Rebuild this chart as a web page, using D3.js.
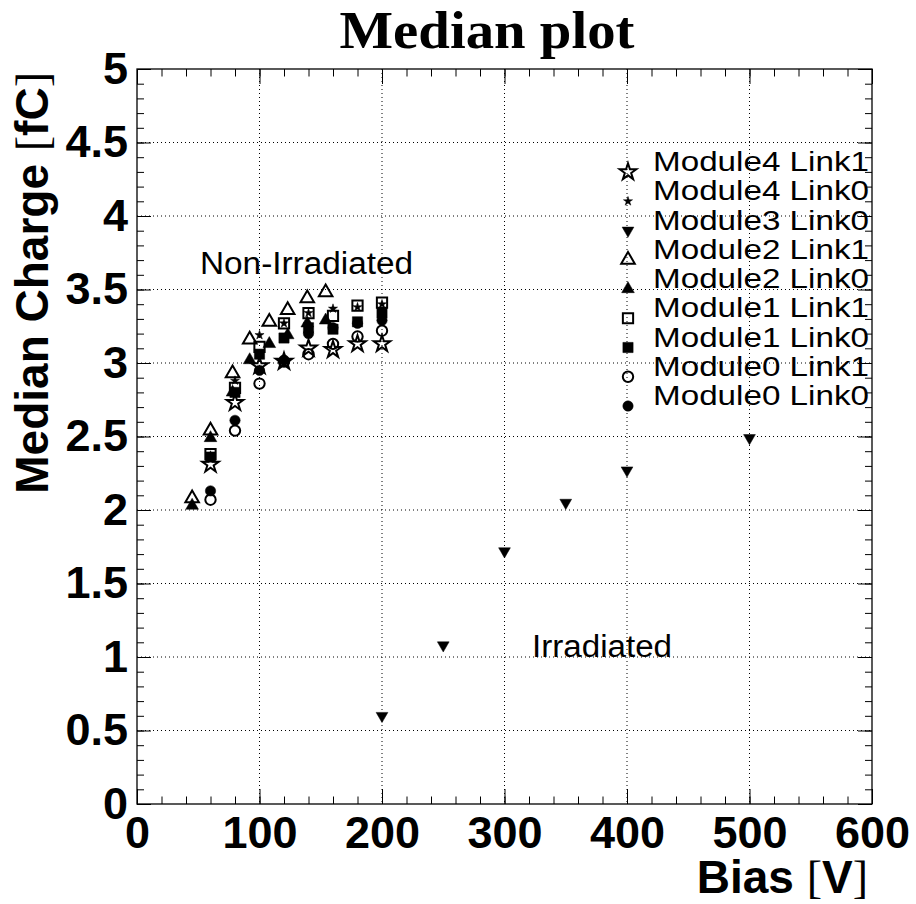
<!DOCTYPE html>
<html>
  <head>
    <title>Median plot | D3</title>
    <script src="https://d3js.org/d3.v7.min.js" charset="utf-8"></script>
    <style>
    body {
        margin: 0;
        background: white;
    }
    text {
        font-family: "Liberation Sans", Arial, sans-serif;
    }
    </style>
  </head>

  <body>
    <script>
// ---- data ----
var biasStd = [60, 80, 100, 120, 140, 160, 180, 200];
var biasM2 = [45, 60, 78, 92, 108, 123, 139, 154];
var biasM3 = [200, 250, 300, 350, 400, 500];

var m4l1 = [2.31, 2.73, 2.98, 3.01, 3.10, 3.09, 3.13, 3.13];
var m4l0 = [2.37, 2.88, 3.19, 3.27, 3.34, 3.37, 3.38, 3.40];
var m3l0 = [0.60, 1.08, 1.72, 2.05, 2.27, 2.49];
var m2l1 = [2.08, 2.54, 2.93, 3.16, 3.28, 3.36, 3.44, 3.48];
var m2l0 = [2.03, 2.49, 2.80, 3.02, 3.13, 3.19, 3.27, 3.29];
var m1l1 = [2.38, 2.83, 3.11, 3.27, 3.34, 3.32, 3.39, 3.41];
var m1l0 = [2.36, 2.80, 3.06, 3.17, 3.24, 3.23, 3.28, 3.34];
var m0l1 = [2.07, 2.54, 2.86, 3.01, 3.06, 3.13, 3.18, 3.22];
var m0l0 = [2.13, 2.61, 2.95, 3.02, 3.20, 3.24, 3.27, 3.29];

var legendNames = ["Module4 Link1", "Module4 Link0", "Module3 Link0", "Module2 Link1",
  "Module2 Link0", "Module1 Link1", "Module1 Link0", "Module0 Link1", "Module0 Link0"];

var xMajor = [0, 100, 200, 300, 400, 500, 600];
var yMajor = [0, 0.5, 1, 1.5, 2, 2.5, 3, 3.5, 4, 4.5, 5];

// ---- series, in legend order ----
var series = [
  {x: biasStd, y: m4l1, sym: d3.symbolStar, size: 85, filled: false, flip: false},
  {x: biasStd, y: m4l0, sym: d3.symbolStar, size: 26, filled: true, flip: false},
  {x: biasM3, y: m3l0, sym: d3.symbolTriangle, size: 60, filled: true, flip: true},
  {x: biasM2, y: m2l1, sym: d3.symbolTriangle, size: 80, filled: false, flip: false},
  {x: biasM2, y: m2l0, sym: d3.symbolTriangle, size: 70, filled: true, flip: false},
  {x: biasStd, y: m1l1, sym: d3.symbolSquare, size: 105, filled: false, flip: false},
  {x: biasStd, y: m1l0, sym: d3.symbolSquare, size: 105, filled: true, flip: false},
  {x: biasStd, y: m0l1, sym: d3.symbolCircle, size: 85, filled: false, flip: false},
  {x: biasStd, y: m0l0, sym: d3.symbolCircle, size: 85, filled: true, flip: false}
];

var width = 916;
var height = 904;
var frameL = 137, frameR = 872, frameT = 69, frameB = 804;

var svg = d3.select("body")
  .append("svg")
  .attr("width", width)
  .attr("height", height);

var x = d3.scaleLinear().domain([0, 600]).range([frameL, frameR]);
var y = d3.scaleLinear().domain([0, 5]).range([frameB, frameT]);

// grid
var grid = svg.append("g")
  .attr("stroke", "#000")
  .attr("stroke-width", 1)
  .attr("stroke-dasharray", "1,3");

grid.selectAll("line.gx")
  .data(xMajor.slice(1, -1))
  .enter()
  .append("line")
  .attr("x1", d => x(d)).attr("x2", d => x(d))
  .attr("y1", frameT).attr("y2", frameB);

grid.selectAll("line.gy")
  .data(yMajor.slice(1, -1))
  .enter()
  .append("line")
  .attr("y1", d => y(d)).attr("y2", d => y(d))
  .attr("x1", frameL).attr("x2", frameR);

// axes (ticks point inwards on all four sides)
var xMinor = d3.range(0, 601, 20);
var yMinor = d3.range(0, 51).map(d => d / 10);

function tidy(g) {
  g.select(".domain").remove();
  g.selectAll(".tick line").attr("stroke", "#000").attr("stroke-width", 1);
}

function labelFont(g) {
  g.selectAll("text")
    .attr("font-size", 45).attr("font-weight", "bold").attr("fill", "#000")
    .style("font-family", "'Liberation Sans', Arial, sans-serif");
}

svg.append("g").attr("transform", "translate(0," + frameB + ")")
  .call(d3.axisBottom(x).tickValues(xMinor).tickSize(-7.5).tickFormat(""))
  .call(tidy);
svg.append("g").attr("transform", "translate(0," + frameB + ")")
  .call(d3.axisBottom(x).tickValues(xMajor).tickSize(-15).tickPadding(12).tickFormat(d3.format("d")))
  .call(tidy)
  .call(labelFont);
svg.append("g").attr("transform", "translate(0," + frameT + ")")
  .call(d3.axisTop(x).tickValues(xMinor).tickSize(-7.5).tickFormat(""))
  .call(tidy);
svg.append("g").attr("transform", "translate(0," + frameT + ")")
  .call(d3.axisTop(x).tickValues(xMajor).tickSize(-15).tickFormat(""))
  .call(tidy);

svg.append("g").attr("transform", "translate(" + frameL + ",0)")
  .call(d3.axisLeft(y).tickValues(yMinor).tickSize(-7).tickFormat(""))
  .call(tidy);
svg.append("g").attr("transform", "translate(" + frameL + ",0)")
  .call(d3.axisLeft(y).tickValues(yMajor).tickSize(-14).tickPadding(9).tickFormat(d3.format("")))
  .call(tidy)
  .call(labelFont);
svg.append("g").attr("transform", "translate(" + frameR + ",0)")
  .call(d3.axisRight(y).tickValues(yMinor).tickSize(-7).tickFormat(""))
  .call(tidy);
svg.append("g").attr("transform", "translate(" + frameR + ",0)")
  .call(d3.axisRight(y).tickValues(yMajor).tickSize(-14).tickFormat(""))
  .call(tidy);

// frame
svg.append("rect")
  .attr("x", frameL).attr("y", frameT)
  .attr("width", frameR - frameL).attr("height", frameB - frameT)
  .attr("fill", "none")
  .attr("stroke", "#000")
  .attr("stroke-width", 1.3);

// markers
function markerPath(s) {
  return d3.symbol().type(s.sym).size(s.size)();
}

function styleMarker(sel, s) {
  sel.attr("d", markerPath(s))
    .attr("fill", s.filled ? "#000" : "none")
    .attr("stroke", "#000")
    .attr("stroke-width", s.filled ? 0.5 : 2);
}

var pts = svg.append("g");
series.slice().reverse().forEach(function(s) {
  pts.append("g").selectAll("path")
    .data(s.x.map((v, i) => [v, s.y[i]]))
    .enter()
    .append("path")
    .attr("transform", d => "translate(" + x(d[0]) + "," + y(d[1]) + ")" + (s.flip ? " rotate(180)" : ""))
    .call(styleMarker, s);
});

// legend
var legend = svg.append("g");
legendNames.forEach(function(name, i) {
  var s = series[i];
  var ly = 172 + i * 29.25;
  legend.append("path")
    .attr("transform", "translate(628," + ly + ")" + (s.flip ? " rotate(180)" : ""))
    .call(styleMarker, s);
  legend.append("text")
    .attr("x", 653)
    .attr("y", ly - 1)
    .attr("font-size", 28)
    .attr("textLength", 216)
    .attr("lengthAdjust", "spacingAndGlyphs")
    .text(name);
});

// annotations
svg.append("text")
  .attr("x", 200).attr("y", 274)
  .attr("font-size", 31)
  .attr("textLength", 213)
  .attr("lengthAdjust", "spacingAndGlyphs")
  .text("Non-Irradiated");

svg.append("text")
  .attr("x", 532).attr("y", 657)
  .attr("font-size", 31)
  .attr("textLength", 140)
  .attr("lengthAdjust", "spacingAndGlyphs")
  .text("Irradiated");

// title
svg.append("text")
  .attr("x", 487).attr("y", 48)
  .attr("text-anchor", "middle")
  .attr("font-size", 52)
  .attr("font-weight", "bold")
  .style("font-family", "'Liberation Serif', 'Times New Roman', serif")
  .attr("textLength", 295)
  .attr("lengthAdjust", "spacingAndGlyphs")
  .text("Median plot");

// axis titles
var xt = svg.append("text")
  .attr("x", 868).attr("y", 893)
  .attr("text-anchor", "end")
  .attr("font-size", 46)
  .attr("font-weight", "bold");
xt.append("tspan").text("Bias ");
xt.append("tspan").attr("font-weight", "normal").style("font-family", "'Liberation Serif', serif").text("[");
xt.append("tspan").text("V");
xt.append("tspan").attr("font-weight", "normal").style("font-family", "'Liberation Serif', serif").text("]");

var yt = svg.append("text")
  .attr("transform", "translate(48,72) rotate(-90)")
  .attr("text-anchor", "end")
  .attr("font-size", 46)
  .attr("font-weight", "bold");
yt.append("tspan").text("Median Charge ");
yt.append("tspan").attr("font-weight", "normal").style("font-family", "'Liberation Serif', serif").text("[");
yt.append("tspan").text("fC");
yt.append("tspan").attr("font-weight", "normal").style("font-family", "'Liberation Serif', serif").text("]");
    </script>
  </body>
</html>
